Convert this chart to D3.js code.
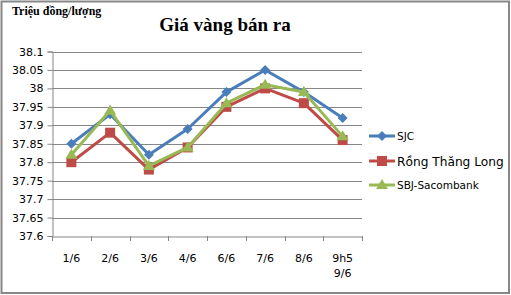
<!DOCTYPE html>
<html><head><meta charset="utf-8">
<script src="https://cdn.jsdelivr.net/npm/d3@7"></script>
<style>body{margin:0;background:#fff}svg{display:block}</style>
</head><body>
<svg id="c" width="511" height="295"></svg>
<script>
const categories = ["1/6","2/6","3/6","4/6","6/6","7/6","8/6","9h5\n9/6"];
const sjc = [37.85,37.93,37.82,37.89,37.99,38.05,37.99,37.92];
const rong = [37.80,37.88,37.78,37.84,37.95,38.00,37.96,37.86];
const sbj = [37.82,37.94,37.79,37.84,37.96,38.01,37.99,37.87];
const yTicks = [37.6,37.65,37.7,37.75,37.8,37.85,37.9,37.95,38,38.05,38.1];
const seriesNames = ["SJC","Rồng Thăng Long","SBJ-Sacombank"];
const colors = ["#4a7ebb","#be4b48","#98b954"];

const svg = d3.select("#c");
svg.append("rect").attr("x",1.5).attr("y",1.5).attr("width",507.5).attr("height",291.5)
  .attr("fill","#fff").attr("stroke","#878787").attr("stroke-width",2);

const L=52, R=362, T=51.5, B=236;
const x = d3.scaleBand().domain(categories).range([L,R]);
const y = d3.scaleLinear().domain([37.6,38.1]).range([B,T]);
const sans = "Tahoma, 'DejaVu Sans', sans-serif";

svg.append("g").selectAll("line").data(yTicks.slice(1)).join("line")
  .attr("x1",L).attr("x2",R).attr("y1",d=>Math.round(y(d))+0.5).attr("y2",d=>Math.round(y(d))+0.5)
  .attr("stroke","#868686").attr("stroke-width",1);

const ya = svg.append("g").attr("transform",`translate(${L+0.5},0)`)
  .call(d3.axisLeft(y).tickValues(yTicks).tickSize(5).tickFormat(d=>d3.format("")(+d.toFixed(2))));
ya.select(".domain").attr("stroke","#868686");
ya.selectAll(".tick line").attr("stroke","#868686");
ya.selectAll("text").attr("font-family",sans).attr("font-size",11).attr("fill","#000").attr("dx",-1);

const xa = svg.append("g").attr("transform",`translate(0,${B+0.5})`)
  .call(d3.axisBottom(x).tickSize(0).tickFormat(""));
xa.select(".domain").attr("stroke","#868686");
const tickPos = d3.range(categories.length+1).map(i=>L+i*x.step());
svg.append("g").selectAll("line").data(tickPos).join("line")
  .attr("x1",d=>Math.round(d)+0.5).attr("x2",d=>Math.round(d)+0.5).attr("y1",B).attr("y2",B+5)
  .attr("stroke","#868686");
const xl = svg.append("g").selectAll("text").data(categories).join("text")
  .attr("x",d=>x(d)+x.bandwidth()/2).attr("y",262)
  .attr("text-anchor","middle").attr("font-family",sans).attr("font-size",11).attr("fill","#000");
xl.each(function(d){
  const lines=d.split("\n");
  d3.select(this).selectAll("tspan").data(lines).join("tspan")
    .attr("x",x(d)+x.bandwidth()/2).attr("dy",(l,i)=>i?15:0).text(l=>l);
});

const data=[sjc,rong,sbj];
const line = d3.line().x((d,i)=>x(categories[i])+x.bandwidth()/2).y(d=>y(d));
function marker(g,type,cx,cy,c){
  if(type===0){ g.append("path").attr("d",`M${cx},${cy-5}L${cx+5},${cy}L${cx},${cy+5}L${cx-5},${cy}Z`).attr("fill",c); }
  else if(type===1){ g.append("rect").attr("x",cx-5).attr("y",cy-5).attr("width",10).attr("height",10).attr("fill",c); }
  else { g.append("path").attr("d",`M${cx},${cy-6}L${cx+6},${cy+4}L${cx-6},${cy+4}Z`).attr("fill",c); }
}
data.forEach((s,k)=>{
  const g=svg.append("g");
  g.append("path").datum(s).attr("d",line).attr("fill","none").attr("stroke",colors[k]).attr("stroke-width",3).attr("stroke-linejoin","round");
  s.forEach((v,i)=>marker(g,k,x(categories[i])+x.bandwidth()/2,y(v),colors[k]));
});

const legY=[136,161,185];
seriesNames.forEach((n,k)=>{
  const g=svg.append("g");
  g.append("line").attr("x1",369).attr("x2",395).attr("y1",legY[k]).attr("y2",legY[k]).attr("stroke",colors[k]).attr("stroke-width",3);
  marker(g,k,382,legY[k],colors[k]);
  g.append("text").attr("x",397).attr("y",legY[k]+(k===1?5:4)).text(n)
   .attr("font-family",sans).attr("font-size",k===1?12.2:10.5).attr("fill","#000");
});

svg.append("text").attr("x",225).attr("y",31).attr("text-anchor","middle").text("Giá vàng bán ra")
  .attr("font-family","'Liberation Serif','Times New Roman',serif").attr("font-weight","bold").attr("font-size",19);
svg.append("text").attr("x",12).attr("y",15).text("Triệu đồng/lượng")
  .attr("font-family","'Liberation Serif','Times New Roman',serif").attr("font-weight","bold").attr("font-size",12);
</script>
</body></html>
